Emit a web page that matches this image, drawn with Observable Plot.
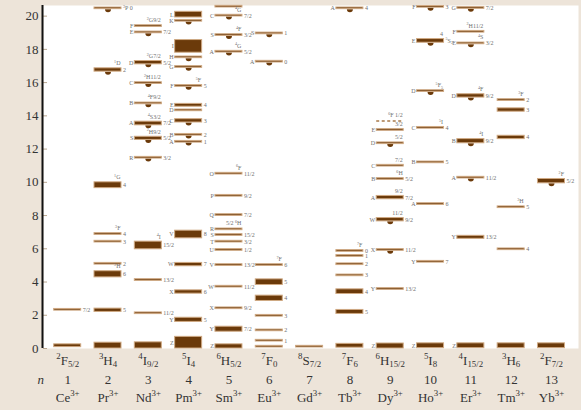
<!DOCTYPE html>
<html><head><meta charset="utf-8">
<script src="https://cdn.jsdelivr.net/npm/d3@7"></script>
<script src="https://cdn.jsdelivr.net/npm/@observablehq/plot@0.6"></script>
<style>html,body{margin:0;padding:0;background:#ede4d9;overflow:hidden}</style>
</head><body><div id="chart"></div>
<script>
// ---- data ----
const ions = ["Ce","Pr","Nd","Pm","Sm","Eu","Gd","Tb","Dy","Ho","Er","Tm","Yb"];
const nums = [1,2,3,4,5,6,7,8,9,10,11,12,13];
const groundTerms = ["^{2}F_{5/2}","^{3}H_{4}","^{4}I_{9/2}","^{5}I_{4}","^{6}H_{5/2}","^{7}F_{0}","^{8}S_{7/2}","^{7}F_{6}","^{6}H_{15/2}","^{5}I_{8}","^{4}I_{15/2}","^{3}H_{6}","^{2}F_{7/2}"];
const yTicks = [0,2,4,6,8,10,12,14,16,18,20];

// levels: [low, high (10^3 cm^-1), left letter, right label, top label, emitting]
const Ce3 = [
  [0.08,0.25,"","","",0],
  [2.33,2.33,"","7/2","",0]];
const Pr3 = [
  [0,0.35,"","","",0],
  [2.2,2.4,"","5","",0],
  [4.28,4.65,"","6","^{3}H",0],
  [5.1,5.1,"","2","",0],
  [6.43,6.43,"","3","",0],
  [6.89,6.89,"","4","^{3}F",0],
  [9.65,10.0,"","4","^{1}G",0],
  [16.66,16.86,"","2","^{1}D",1],
  [20.47,20.47,"","^{3}P 0","",1]];
const Nd3 = [
  [0,0.37,"","","",0],
  [2.12,2.12,"","11/2","",0],
  [4.12,4.12,"","13/2","",0],
  [5.97,6.43,"","15/2","^{4}I",0],
  [11.48,11.48,"R","3/2","",1],
  [12.55,12.74,"S","5/2","^{2}H9/2",1],
  [13.43,13.65,"A","7/2","^{4}S3/2",1],
  [14.75,14.75,"B","","^{4}F9/2",1],
  [15.97,15.97,"C","","^{2}H11/2",1],
  [17.1,17.3,"D","5/2","^{2}G7/2",1],
  [19.02,19.02,"E","7/2","",1],
  [19.4,19.4,"F","","^{2}G9/2",0]];
const Pm3 = [
  [0,0.7,"Z","","",0],
  [1.6,1.85,"Y","5","",0],
  [3.3,3.5,"X","6","",0],
  [4.95,5.15,"W","7","",0],
  [6.63,7.09,"V","8","",0],
  [12.44,12.44,"A","1","",1],
  [12.86,12.86,"B","2","",1],
  [13.6,13.8,"C","3","",1],
  [14.33,14.33,"D","","",0],
  [14.55,14.72,"E","4","",0],
  [15.8,15.8,"F","5","^{5}F",1],
  [16.94,16.94,"G","","",1],
  [17.52,17.52,"H","","",1],
  [17.8,18.56,"I","","",0],
  [19.72,19.72,"K","","",1],
  [19.92,20.26,"L","","",0]];
const Sm3 = [
  [0,0.25,"Z","","",0],
  [1.01,1.31,"Y","7/2","",0],
  [2.42,2.42,"X","9/2","",0],
  [3.72,3.72,"W","11/2","",0],
  [5.02,5.02,"V","13/2","",0],
  [5.93,5.93,"U","1/2","",0],
  [6.43,6.43,"T","3/2","",0],
  [6.83,6.83,"S","15/2","",0],
  [7.17,7.17,"R","","5/2 ^{6}H",0],
  [8.03,8.03,"Q","7/2","",0],
  [9.19,9.19,"P","9/2","",0],
  [10.52,10.52,"O","11/2","^{6}F",0],
  [17.86,17.86,"A","5/2","^{4}G",1],
  [18.86,18.86,"S","3/2","^{4}F",1],
  [20.03,20.03,"C","7/2","^{4}G",1],
  [20.57,20.57,"","","",0]];
const Eu3 = [
  [0.06,0.16,"","","",0],
  [0.47,0.47,"","1","",0],
  [1.09,1.09,"","2","",0],
  [1.97,1.97,"","3","",0],
  [2.86,3.18,"","4","",0],
  [3.82,4.16,"","5","",0],
  [5.02,5.02,"","6","^{7}F",0],
  [17.26,17.26,"A","0","",1],
  [18.96,18.96,"S","1","",1]];
const Gd3 = [
  [0.06,0.16,"","","",0]];
const Tb3 = [
  [0.05,0.28,"","","",0],
  [2.08,2.32,"","5","",0],
  [3.28,3.56,"","4","",0],
  [4.4,4.4,"","3","",0],
  [5.07,5.07,"","2","",0],
  [5.57,5.57,"","1","",0],
  [5.87,5.87,"","0","^{7}F",0],
  [20.47,20.47,"A","4","",1]];
const Dy3 = [
  [0,0.3,"Z","","",0],
  [3.58,3.58,"Y","13/2","",0],
  [5.93,5.93,"X","11/2","",1],
  [7.65,7.85,"W","9/2","11/2",1],
  [8.98,9.18,"A","7/2","9/2",0],
  [10.2,10.2,"B","5/2","^{6}H",0],
  [11.0,11.0,"C","","7/2",0],
  [12.35,12.35,"D","","5/2",1],
  [13.15,13.15,"E","","3/2",0]];
const DyDashed = [[13.69,"^{6}F 1/2"]];
const Ho3 = [
  [0.02,0.31,"Z","","",0],
  [5.22,5.22,"Y","7","",0],
  [8.69,8.69,"A","6","",0],
  [11.2,11.2,"B","5","",0],
  [13.28,13.28,"C","4","^{5}I",0],
  [15.49,15.49,"D","","^{5}F_{5}",1],
  [18.4,18.62,"E","^{5}S_{2}","4",1],
  [20.56,20.56,"F","3","",1]];
const Er3 = [
  [0.02,0.31,"Z","","",0],
  [6.6,6.78,"Y","13/2","",0],
  [10.28,10.28,"A","11/2","",1],
  [12.35,12.6,"B","9/2","^{4}I",1],
  [15.1,15.3,"D","9/2","^{4}F",1],
  [18.36,18.36,"E","3/2","^{4}S",1],
  [19.06,19.06,"F","","^{2}H11/2",0],
  [20.49,20.49,"G","7/2","",1]];
const Tm3 = [
  [0.02,0.31,"","","",0],
  [5.97,5.97,"","4","",0],
  [8.5,8.5,"","5","^{3}H",0],
  [12.6,12.8,"","4","",0],
  [14.25,14.45,"","3","",0],
  [14.95,14.95,"","2","^{3}F",0]];
const Yb3 = [
  [0.02,0.31,"","","",0],
  [9.94,10.2,"","5/2","^{2}F",1]];

// ---- build table ----
const perIon = [Ce3,Pr3,Nd3,Pm3,Sm3,Eu3,Gd3,Tb3,Dy3,Ho3,Er3,Tm3,Yb3];
const minHalf = 0.05;
const levels = perIon.flatMap((rows, i) => rows.map(([lo, hi, left, right, top, emit]) => {
  const pad = (hi - lo) < 2 * minHalf ? minHalf : 0;
  return {n: nums[i], y1: lo - pad, y2: hi + pad, mid: (lo + hi) / 2, left, right, top, emit: !!emit};
}));
const dashed = DyDashed.map(([e, label]) => ({n: 9, e, label}));

const halfW = 0.335;
const xDomain = [0.4, 13.67];
const brown = "#6b3a0a";
const tan = "#cfa983";
const labelGray = "#707070";

const halfCircle = {
  draw(ctx, size) {
    const r = Math.sqrt(size / Math.PI);
    ctx.moveTo(-r, 0);
    ctx.arc(0, 0, r, Math.PI, 0, true);
    ctx.closePath();
  }
};

const small = {fontSize: 6, fill: labelGray, fontFamily: "'Liberation Serif', serif"};

const plot = Plot.plot({
  width: 581,
  height: 410,
  marginLeft: 43,
  marginRight: 3,
  marginTop: 5,
  marginBottom: 62,
  style: {background: "#ede4d9", fontFamily: "'Liberation Serif', serif", color: "#333"},
  x: {domain: xDomain, axis: null},
  y: {domain: [0, 20.64], axis: null},
  marks: [
    Plot.frame({fill: "white", stroke: "none"}),
    Plot.ruleY(yTicks, {x1: xDomain[0], x2: xDomain[0] + 0.1, stroke: "#b8a690"}),
    Plot.axisY({ticks: yTicks, tickSize: 0, tickPadding: 5, fontSize: 13, label: null, anchor: "left"}),
    Plot.ruleX([xDomain[0]], {stroke: "#111", strokeWidth: 2, dx: -1}),
    Plot.ruleY(dashed, {x1: d => d.n - halfW, x2: d => d.n + halfW, y: "e", stroke: "#a87a4a", strokeWidth: 1.5, strokeDasharray: "3,2.5"}),
    Plot.dot(levels.filter(d => d.emit), {x: "n", y: "y1", symbol: halfCircle, r: 3, fill: brown, stroke: "none"}),
    Plot.rect(levels, {x1: d => d.n - halfW, x2: d => d.n + halfW, y1: "y1", y2: "y2", fill: brown, stroke: tan, strokeWidth: 1}),
    Plot.text(levels.filter(d => d.left), {x: d => d.n - halfW, y: "mid", text: "left", textAnchor: "end", dx: -1.5, ...small}),
    Plot.text(levels.filter(d => d.right), {x: d => d.n + halfW, y: "mid", text: "right", textAnchor: "start", dx: 1.5, ...small}),
    Plot.text(levels.filter(d => d.top), {x: d => d.n + halfW, y: "y2", text: "top", textAnchor: "end", dx: -1, dy: -5, ...small}),
    Plot.text(dashed, {x: d => d.n + halfW, y: "e", text: "label", textAnchor: "end", dx: -1, dy: -6, ...small}),
    Plot.text(nums, {x: d => d, frameAnchor: "bottom", dy: 16, text: (d, i) => groundTerms[i], fontSize: 13, fill: "#333"}),
    Plot.text(nums, {x: d => d, frameAnchor: "bottom", dy: 35, text: d => String(d), fontSize: 13, fill: "#333"}),
    Plot.text(["n"], {frameAnchor: "bottom-left", dx: -6, dy: 35, text: d => d, fontSize: 13, fontStyle: "italic", fill: "#333"}),
    Plot.text(nums, {x: d => d, frameAnchor: "bottom", dy: 53, text: (d, i) => ions[i] + "^{3+}", fontSize: 13, fill: "#333"})
  ]
});

document.getElementById("chart").append(plot);

// rich text: ^{...} superscript, _{...} subscript
function richify(svg) {
  svg.querySelectorAll("text").forEach(t => {
    const s = t.textContent;
    if (!/[\^_]\{/.test(s)) return;
    const fs = parseFloat(getComputedStyle(t).fontSize) || 10;
    while (t.firstChild) t.removeChild(t.firstChild);
    let cur = 0;
    const re = /([\^_])\{([^}]*)\}|([^\^_]+)/g;
    let m;
    while ((m = re.exec(s))) {
      const ts = document.createElementNS("http://www.w3.org/2000/svg", "tspan");
      let target = 0, size = null, txt;
      if (m[1]) {
        txt = m[2];
        size = fs * 0.68;
        target = m[1] === "^" ? -0.4 * fs : 0.22 * fs;
      } else txt = m[3];
      ts.setAttribute("dy", (target - cur).toFixed(2));
      if (size) ts.setAttribute("font-size", size.toFixed(2));
      ts.textContent = txt;
      t.appendChild(ts);
      cur = target;
    }
  });
}
richify(plot);
</script>
</body></html>
